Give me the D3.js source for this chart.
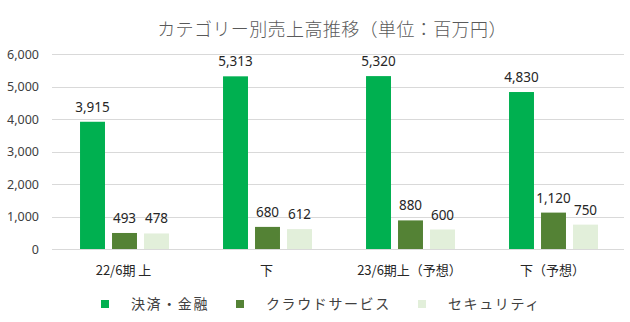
<!DOCTYPE html>
<html>
<head>
<meta charset="utf-8">
<script src="https://cdn.jsdelivr.net/npm/d3@7/dist/d3.min.js"></script>
<style>
  html, body { margin: 0; padding: 0; background: #fff; }
  svg { display: block; }
</style>
</head>
<body>
<svg id="chart" width="630" height="322"></svg>
<script>
// Periods (x categories)
const categories = ["22/6期 上", "下", "23/6期上（予想）", "下（予想）"];
// Series names
const seriesNames = ["決済・金融", "クラウドサービス", "セキュリティ"];
// Values per series, in millions of yen
const payment = [3915, 5313, 5320, 4830];
const cloud = [493, 680, 880, 1120];
const security = [478, 612, 600, 750];
const seriesValues = [payment, cloud, security];
// Y-axis ticks
const yTicks = [0, 1000, 2000, 3000, 4000, 5000, 6000];

const colors = ["#00B050", "#548235", "#E2EFDA"];
const title = "カテゴリー別売上高推移（単位：百万円）";

const svg = d3.select("#chart");
const plot = { left: 52, right: 624, top: 54, bottom: 249 };

const jpFont = "'Noto Sans CJK JP', 'Noto Sans', sans-serif";
const numFont = "'Noto Sans', 'Noto Sans CJK JP', sans-serif";

const x0 = d3.scaleBand().domain(categories).range([plot.left, plot.right]).padding(0);
const x1 = d3.scaleBand().domain(d3.range(seriesNames.length))
  .range([x0.bandwidth() * 0.196, x0.bandwidth() * 0.818]).paddingInner(0.22);
const y = d3.scaleLinear().domain([0, 6000]).range([plot.bottom, plot.top]);

// Title
svg.append("text")
  .attr("x", 332).attr("y", 36)
  .attr("text-anchor", "middle")
  .attr("font-family", jpFont)
  .attr("font-size", 18)
  .attr("font-weight", 300)
  .attr("letter-spacing", 0.4)
  .attr("fill", "#595959")
  .text(title);

// Gridlines
svg.append("g").selectAll("line").data(yTicks).join("line")
  .attr("x1", plot.left).attr("x2", plot.right)
  .attr("y1", d => Math.round(y(d)) + 0.5).attr("y2", d => Math.round(y(d)) + 0.5)
  .attr("stroke", "#d9d9d9").attr("stroke-width", 1);

// Y-axis labels
const fmt = d3.format(",");
svg.append("g").selectAll("text").data(yTicks).join("text")
  .attr("x", 39).attr("y", d => y(d) + 4.5)
  .attr("text-anchor", "end")
  .attr("font-family", numFont)
  .attr("font-size", 12.5)
  .attr("fill", "#404040")
  .text(d => fmt(d));

// Bars
const groups = svg.append("g").selectAll("g").data(categories).join("g")
  .attr("transform", c => `translate(${x0(c)},0)`);

groups.selectAll("rect")
  .data((c, i) => seriesValues.map((vals, s) => ({ s, v: vals[i] })))
  .join("rect")
  .attr("x", d => x1(d.s))
  .attr("width", x1.bandwidth())
  .attr("y", d => y(d.v))
  .attr("height", d => y(0) - y(d.v))
  .attr("fill", d => colors[d.s]);

// Data labels
groups.selectAll("text.val")
  .data((c, i) => seriesValues.map((vals, s) => ({ s, v: vals[i] })))
  .join("text")
  .attr("class", "val")
  .attr("x", d => x1(d.s) + x1.bandwidth() / 2)
  .attr("y", d => y(d.v) - 10)
  .attr("text-anchor", "middle")
  .attr("font-family", numFont)
  .attr("font-size", 13.5)
  .attr("fill", "#262626")
  .text(d => fmt(d.v));

// X-axis labels
svg.append("g").selectAll("text").data(categories).join("text")
  .attr("x", c => x0(c) + x0.bandwidth() / 2)
  .attr("y", 275)
  .attr("text-anchor", "middle")
  .attr("font-family", jpFont)
  .attr("font-size", 13)
  .attr("fill", "#262626")
  .text(c => c);

// Legend
const legendX = [101, 236, 418];
const legend = svg.append("g").selectAll("g").data(seriesNames).join("g")
  .attr("transform", (d, i) => `translate(${legendX[i]},300)`);
legend.append("rect")
  .attr("width", 8).attr("height", 8)
  .attr("fill", (d, i) => colors[i]);
legend.append("text")
  .attr("x", 30).attr("y", 9)
  .attr("font-family", jpFont)
  .attr("font-size", 14)
  .attr("letter-spacing", 1.6)
  .attr("fill", "#404040")
  .text(d => d);
</script>
</body>
</html>
